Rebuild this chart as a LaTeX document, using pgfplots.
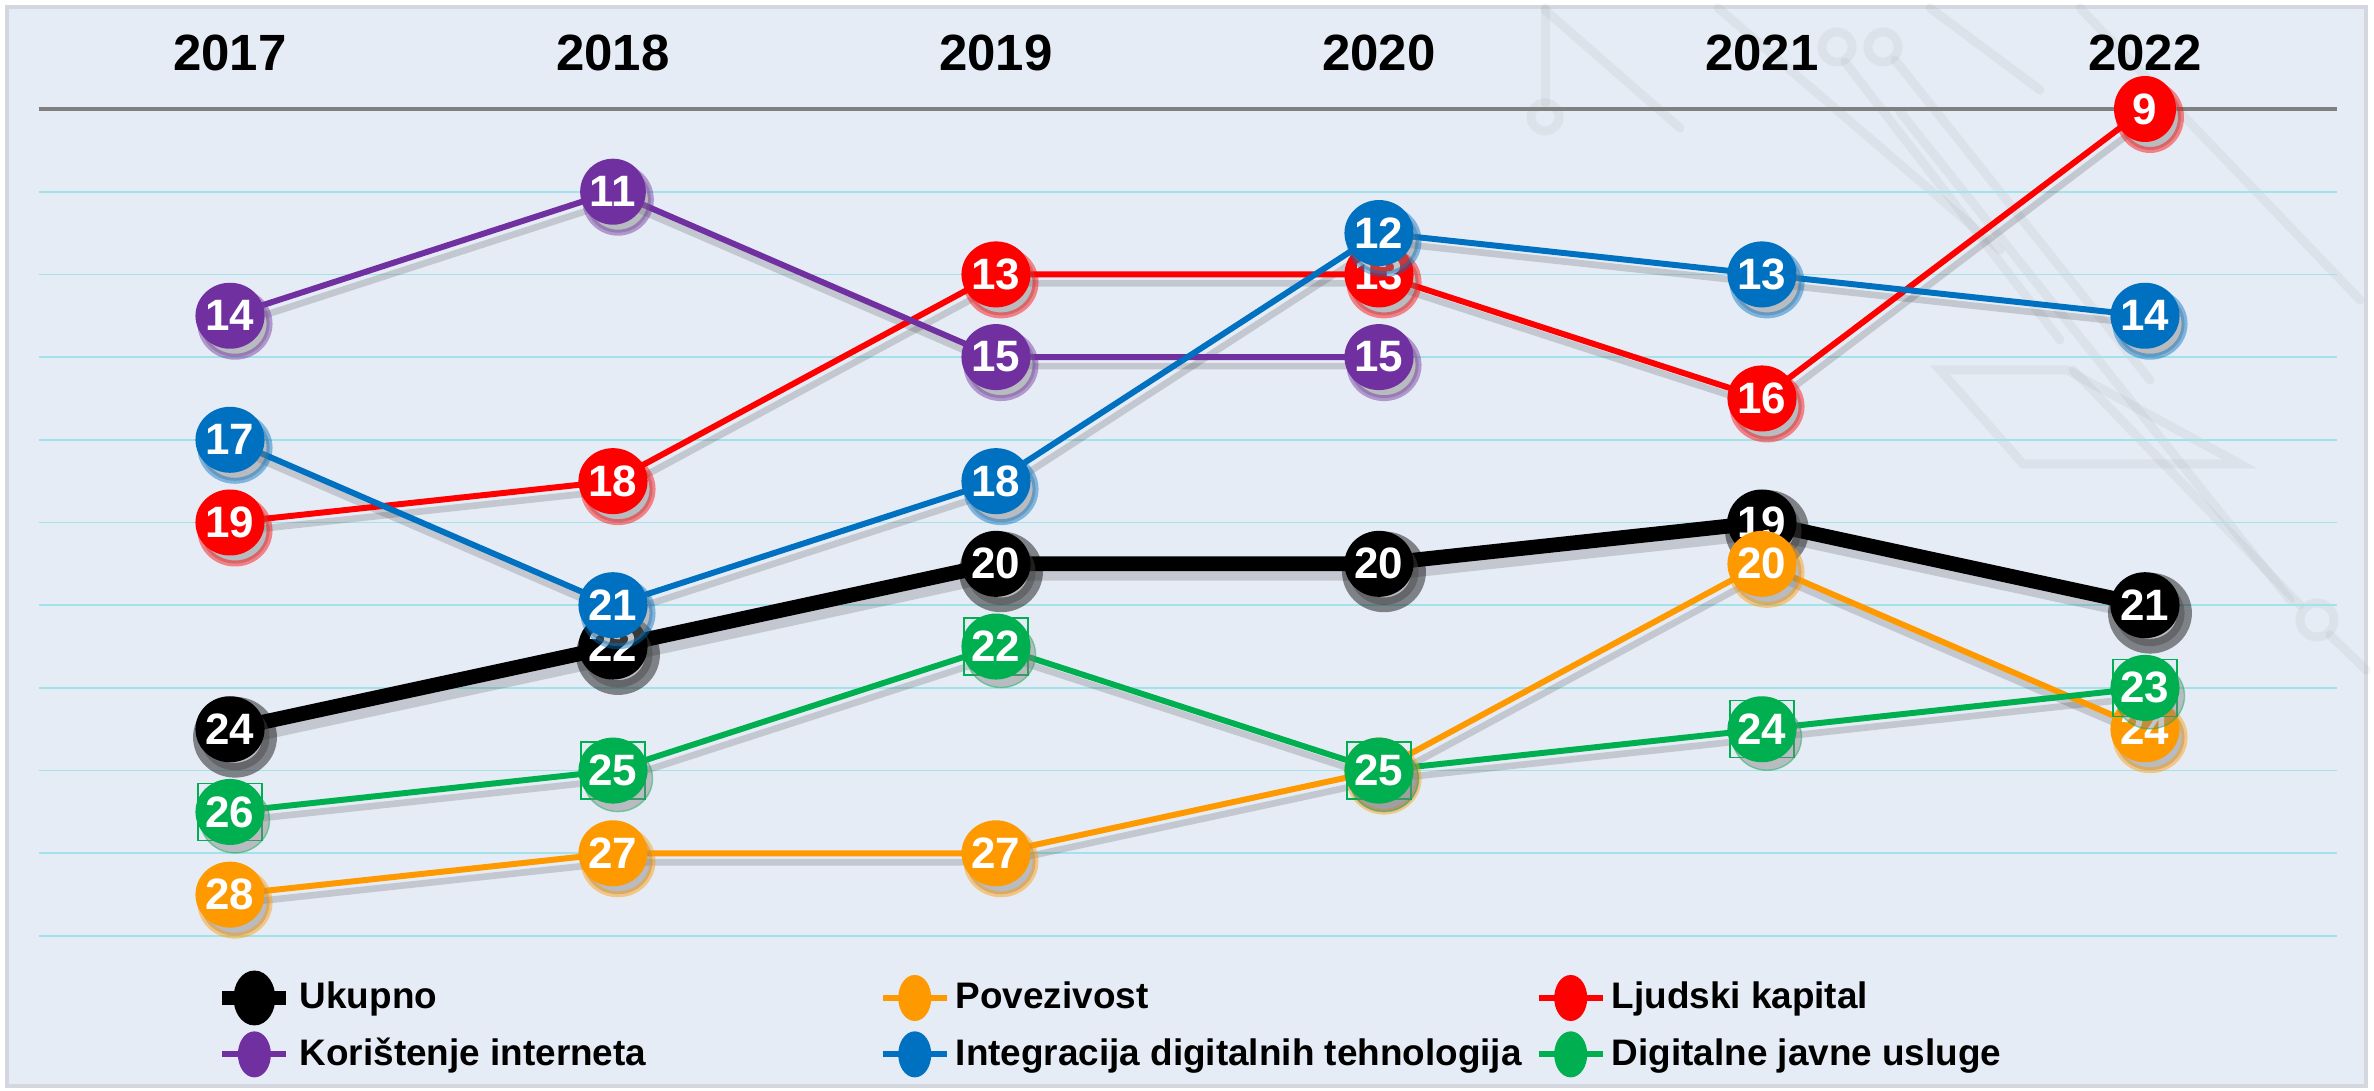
\documentclass[border=0pt]{standalone}
\usepackage{fontspec}
\setmainfont{Liberation Sans}
\usepackage{pgfplots}
\pgfplotsset{compat=1.18}
\usepackage{pgfplotstable}
\usetikzlibrary{shadows,shapes.geometric}

\definecolor{bg}{HTML}{E6ECF5}
\definecolor{framec}{HTML}{D4D8DE}
\definecolor{gridc}{HTML}{A3E2E8}
\definecolor{axgray}{HTML}{808080}
\definecolor{cOrange}{HTML}{FF9900}
\definecolor{cRed}{HTML}{FF0000}
\definecolor{cPurple}{HTML}{7030A0}
\definecolor{cBlue}{HTML}{0070C0}
\definecolor{cGreen}{HTML}{00B050}

% rank per year (lower is better)
\pgfplotstableread{
x uk  pov lju kor int dig
0 24  28  19  14  17  26
1 22  27  18  11  21  25
2 20  27  13  15  18  22
3 20  25  13  15  12  25
4 19  20  16  nan 13  24
5 21  24  9   nan 14  23
}\ranks

\pgfplotsset{
  ser/.style={draw=#1, mark=none,
    point meta=y,
    nodes near coords={\pgfmathprintnumber[assume math mode=true]{\pgfplotspointmeta}},
    every node near coord/.append style={ellipse, fill=#1, text=white,
      font=\fontsize{12.5}{13}\selectfont\bfseries,
      minimum width=6.2mm, minimum height=6.6mm, inner sep=0pt, anchor=center,
      drop shadow={shadow xshift=0.5mm, shadow yshift=-0.8mm, opacity=0.45}},
    legend image code/.code={
      \draw[##1] (0mm,0mm) -- (6.4mm,0mm);
      \fill[#1] (3.2mm,0mm) ellipse [x radius=1.35mm, y radius=2.0mm];}},
  shad/.style={forget plot, draw=black, opacity=0.15, mark=none, xshift=0.5mm, yshift=-0.9mm},
}

\begin{document}
\begin{tikzpicture}
\begin{scope}[x=0.1mm, y=-0.1mm, shift={(-3.85mm,93.6mm)}]
  \path[use as bounding box] (0,0) rectangle (2374,1091);
  \fill[bg] (7,7) rectangle (2366,1086);
  \draw[framec, line width=0.35mm] (7,7) rectangle (2366,1086);
  % faint circuit decoration
  \begin{scope}[gray, opacity=0.09, line width=0.9mm, line cap=round]
    \draw (1545,8) -- (1545,103);
    \draw (1545,117) circle (14);
    \draw (1545,10) -- (1680,128);
    \draw (1718,8) -- (2000,250);
    \draw (1837,47) circle (15);
    \draw (1883,47) circle (15);
    \draw (1845,62) -- (2060,340);
    \draw (1895,60) -- (2150,380);
    \draw (1930,8) -- (2040,90);
    \draw (1900,112) -- (2290,600);
    \draw (1940,370) -- (2067,370) -- (2240,464) -- (2023,464) -- cycle;
    \draw (2073,370) -- (2300,605);
    \draw (2317,620) circle (17);
    \draw (2330,635) -- (2366,670);
    \draw (2080,8) -- (2360,300);
  \end{scope}
\end{scope}

\begin{axis}[
  at={(0,0)}, anchor=south west, scale only axis,
  width=229.8mm, height=82.7mm,
  xmin=-0.5, xmax=5.5, ymin=9, ymax=29, y dir=reverse,
  clip=false,
  axis line style={draw=none},
  major tick length=0pt,
  xtick={0,...,5}, xticklabels={2017,2018,2019,2020,2021,2022},
  xticklabel pos=upper,
  xticklabel style={font=\fontsize{14.5}{15}\selectfont\bfseries, anchor=center, yshift=5.6mm},
  ytick={11,13,...,29}, yticklabels={},
  ymajorgrids, grid style={gridc, line width=0.5pt},
  extra y ticks={9}, extra y tick labels={},
  extra y tick style={grid style={axgray, line width=1.2pt}},
  legend columns=3,
  legend style={at={(axis description cs:0.0765,-0.041)}, anchor=north west,
    draw=none, fill=none, inner sep=0pt, column sep=0pt, row sep=0.6mm,
    font=\fontsize{10.5}{12}\selectfont\bfseries,
    nodes={inner sep=0.6mm}},
  legend cell align=left,
]
% shadows under the lines
\addplot[shad, line width=4.4pt] table[x=x, y=uk]{\ranks};
\addplot[shad, line width=1.9pt] table[x=x, y=pov]{\ranks};
\addplot[shad, line width=1.9pt] table[x=x, y=lju]{\ranks};
\addplot[shad, line width=1.9pt] table[x=x, y=kor]{\ranks};
\addplot[shad, line width=1.9pt] table[x=x, y=int]{\ranks};
\addplot[shad, line width=1.9pt] table[x=x, y=dig]{\ranks};

\addplot[ser=black, line width=4.2pt] table[x=x, y=uk]{\ranks};
\addlegendentry{\makebox[57.4mm][l]{Ukupno}}
\addplot[ser=cOrange, line width=1.7pt] table[x=x, y=pov]{\ranks};
\addlegendentry{\makebox[57.4mm][l]{Povezivost}}
\addplot[ser=cRed, line width=1.7pt] table[x=x, y=lju]{\ranks};
\addlegendentry{\makebox[57.4mm][l]{Ljudski kapital}}
\addplot[ser=cPurple, line width=1.7pt] table[x=x, y=kor]{\ranks};
\addlegendentry{\makebox[57.4mm][l]{Korištenje interneta}}
\addplot[ser=cBlue, line width=1.7pt] table[x=x, y=int]{\ranks};
\addlegendentry{\makebox[57.4mm][l]{Integracija digitalnih tehnologija}}
\addplot[ser=cGreen, line width=1.7pt, mark=square,
  mark size=2.85mm, mark options={draw=cGreen, fill=none, line width=0.4pt, xscale=1.12}]
  table[x=x, y=dig]{\ranks};
\addlegendentry{\makebox[57.4mm][l]{Digitalne javne usluge}}
\end{axis}
\end{tikzpicture}
\end{document}
